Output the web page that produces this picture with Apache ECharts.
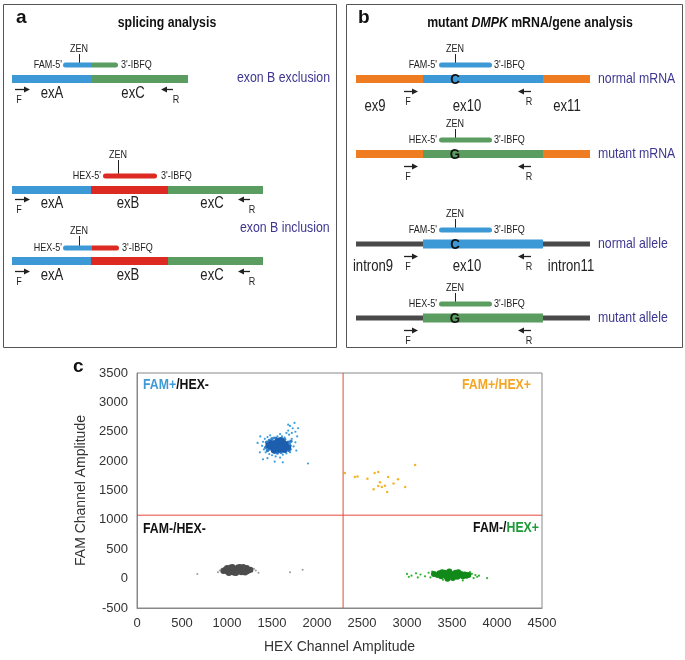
<!DOCTYPE html>
<html><head><meta charset="utf-8">
<script src="https://cdn.jsdelivr.net/npm/echarts@6/dist/echarts.min.js"></script>
<style>html,body{margin:0;padding:0;background:#fff}#c{width:685px;height:660px}</style>
</head><body><div id="c"></div>
<script>
// ---------- DATA (scatter, panel c) ----------
const xTickValues = [0,500,1000,1500,2000,2500,3000,3500,4000,4500];
const yTickValues = [-500,0,500,1000,1500,2000,2500,3000,3500];
const xAxisName = 'HEX Channel Amplitude';
const yAxisName = 'FAM Channel Amplitude';
const thresholdHEX = 2290;
const thresholdFAM = 1080;
const quadrantNames = ['FAM+/HEX-','FAM+/HEX+','FAM-/HEX-','FAM-/HEX+'];

const famPosCore = [[1480,2250],[1500,2290],[1510,2220],[1530,2310],[1540,2260],[1550,2200],[1560,2330],[1570,2280],[1580,2240],[1590,2300],[1600,2210],[1610,2270],[1620,2320],[1630,2240],[1640,2190],[1650,2290],[1660,2250],[1520,2180],[1570,2350],[1600,2360],[1490,2310],[1680,2230],[1460,2270],[1545,2240],[1585,2195],[1625,2275],[1515,2265],[1555,2300],[1605,2250],[1535,2205]];
const famPosMid = [[1430,2230],[1440,2320],[1450,2180],[1470,2350],[1500,2380],[1530,2150],[1560,2140],[1600,2150],[1650,2170],[1680,2320],[1700,2260],[1690,2180],[1640,2370],[1540,2390],[1460,2200],[1710,2340]];
const famPosSpread = [[1390,2260],[1400,2330],[1410,2200],[1420,2380],[1430,2150],[1440,2290],[1450,2410],[1370,2420],[1365,2150],[1700,2300],[1710,2200],[1720,2380],[1690,2450],[1680,2520],[1700,2600],[1730,2560],[1750,2650],[1660,2480],[1720,2480],[1760,2500],[1640,2400],[1610,2420],[1560,2420],[1520,2400],[1470,2120],[1500,2100],[1540,2080],[1590,2060],[1620,2110],[1660,2130],[1700,2150],[1740,2250],[1760,2320],[1780,2420],[1790,2560],[1680,2620],[1450,2050],[1530,1990],[1620,1980],[1900,1960],[1400,2030],[1340,2310],[1770,2180],[1480,2440],[1590,2460]];
const negCore = [[980,150],[1000,120],[1000,180],[1020,150],[1040,110],[1040,190],[1060,140],[1080,170],[1080,100],[1100,150],[1120,120],[1120,190],[1140,150],[1160,110],[1160,180],[1180,140],[1200,160],[1220,120],[1220,180],[1240,140],[1060,200],[1140,200],[960,130],[1260,150],[1100,95],[1200,105],[1020,95],[1180,200]];
const negSpread = [[920,140],[940,170],[1280,120],[1300,170],[1320,140],[670,80],[1700,110],[1840,150],[1350,100],[900,110]];
const hexPosCore = [[3340,60],[3360,90],[3380,40],[3400,70],[3420,100],[3440,30],[3460,60],[3480,90],[3500,40],[3520,70],[3540,100],[3560,30],[3580,60],[3600,80],[3620,40],[3640,70],[3660,50],[3390,110],[3450,0],[3510,10],[3570,110],[3300,80],[3680,60],[3470,120],[3530,40]];
const hexPosSpread = [[3000,80],[3050,50],[3100,90],[3150,70],[3200,40],[3240,100],[3260,20],[3280,120],[3700,40],[3720,80],[3740,10],[3760,60],[3780,30],[3800,50],[3890,10],[3620,-30],[3400,-20],[3020,30],[3120,20],[3700,110]];
const doublePos = [[2310,1800],[2420,1730],[2450,1740],[2640,1800],[2680,1815],[2790,1730],[2680,1575],[2720,1560],[2755,1580],[2780,1475],[2980,1560],[3090,1935],[2700,1640],[2560,1700],[2850,1620],[2630,1520],[2900,1690]];

// ---------- STYLE ----------
const BLUE = '#3d98d6', GREEN = '#5b9d60', RED = '#dc2a22', ORANGE = '#f07c22', GREYLINE = '#4a4a4a', PURPLE = '#3d3790';
const FF = '"Liberation Sans",Arial,sans-serif';
const SX = 0.82; // horizontal condensation of the figure's narrow font

// ---------- DIAGRAM (panels a & b) built as graphic elements ----------
const g = [];
function box(x1,y1,x2,y2){ g.push({type:'rect',silent:true,shape:{x:x1+0.5,y:y1+0.5,width:x2-x1,height:y2-y1},style:{fill:'none',stroke:'#555',lineWidth:1}}); }
function seg(x1,x2,yc,h,color){ g.push({type:'rect',silent:true,shape:{x:x1,y:yc-h/2,width:x2-x1,height:h},style:{fill:color}}); }
function probe(parts,yc){
  const h=5, r=2.5;
  parts.forEach((p,i)=>{
    let rr=[0,0,0,0];
    if(i===0){rr[0]=r;rr[3]=r;}
    if(i===parts.length-1){rr[1]=r;rr[2]=r;}
    g.push({type:'rect',silent:true,shape:{x:p[0],y:yc-h/2,width:p[1]-p[0],height:h,r:rr},style:{fill:p[2]}});
  });
}
function ln(x1,y1,x2,y2,c,w){ g.push({type:'line',silent:true,shape:{x1,y1,x2,y2},style:{stroke:c||'#222',lineWidth:w||1}}); }
function txt(t,x,y,size,align,color,weight,sx){
  g.push({type:'text',silent:true,x:x,y:y,scaleX:(sx===undefined?SX:sx),z:5,
    style:{text:t,x:0,y:0,font:(weight||'normal')+' '+size+'px '+FF,fill:color||'#222',align:align||'center',verticalAlign:'middle',textAlign:align||'center',textVerticalAlign:'middle'}});
}
function arrowR(x1,x2,y){ ln(x1,y+0.5,x2-3,y+0.5,'#222',1.3); g.push({type:'polygon',silent:true,shape:{points:[[x2,y+0.5],[x2-6,y-2.5],[x2-6,y+3.5]]},style:{fill:'#222'}}); }
function arrowL(x1,x2,y){ ln(x1+3,y+0.5,x2,y+0.5,'#222',1.3); g.push({type:'polygon',silent:true,shape:{points:[[x1,y+0.5],[x1+6,y-2.5],[x1+6,y+3.5]]},style:{fill:'#222'}}); }
function zen(x,y,yEnd){ txt('ZEN',x,y,11,'center','#222'); ln(x+0.5,y+5,x+0.5,yEnd,'#222',1); }

// Panel a
box(3,4,336,347);
txt('a',16,18,19,'left','#111','bold',1);
txt('splicing analysis',167,23,15,'center','#111','bold');
// row 1 (exon B exclusion)
zen(79,49,63);
probe([[63,92,BLUE],[92,118,GREEN]],65);
txt("FAM-5'",62,65,11,'right'); txt("3'-IBFQ",121,65,11,'left');
seg(12,92,79,8,BLUE); seg(92,188,79,8,GREEN);
arrowR(15,30,89); txt('F',19,100,11); arrowL(161,173,89); txt('R',176,100,11);
txt('exA',52,94,16); txt('exC',133,94,16);
txt('exon B exclusion',237,78,15,'left',PURPLE);
// row 2
zen(118,155,174);
probe([[103,157,RED]],176);
txt("HEX-5'",101,176,11,'right'); txt("3'-IBFQ",161,176,11,'left');
seg(12,91,190,8,BLUE); seg(91,168,190,8,RED); seg(168,263,190,8,GREEN);
arrowR(15,30,199); txt('F',19,210,11); arrowL(238,250,199); txt('R',252,210,11);
txt('exA',52,204,16); txt('exB',128,204,16); txt('exC',212,204,16);
txt('exon B inclusion',240,228,15,'left',PURPLE);
// row 3
zen(79,231,246);
probe([[63,92,BLUE],[92,119,RED]],248);
txt("HEX-5'",62,248,11,'right'); txt("3'-IBFQ",122,248,11,'left');
seg(12,91,261,8,BLUE); seg(91,168,261,8,RED); seg(168,263,261,8,GREEN);
arrowR(15,30,271); txt('F',19,282,11); arrowL(238,250,271); txt('R',252,282,11);
txt('exA',52,276,16); txt('exB',128,276,16); txt('exC',212,276,16);

// Panel b
box(346,4,682,347);
txt('b',358,18,19,'left','#111','bold',1);
g.push({type:'text',silent:true,x:530,y:23,scaleX:SX,z:5,style:{text:'{n|mutant }{i|DMPK}{n| mRNA/gene analysis}',x:0,y:0,align:'center',verticalAlign:'middle',textAlign:'center',textVerticalAlign:'middle',
  rich:{n:{font:'bold 15px '+FF,fill:'#111',color:'#111'},i:{font:'italic bold 15px '+FF,fill:'#111',color:'#111'}}}});
function rowB(y,color,letter,pl,label,allele){
  zen(455,y-30,y-16);
  probe([[439,492,color]],y-14);
  txt(pl,437,y-14,11,'right'); txt("3'-IBFQ",494,y-14,11,'left');
  if(allele){ seg(356,590,y,5,GREYLINE); seg(423,543,y,9,color); }
  else { seg(356,423,y,8,ORANGE); seg(423,543,y,8,color); seg(543,590,y,8,ORANGE); }
  txt(letter,455,y+1,14,'center','#111','bold',0.95);
  txt(label,598,y,15,'left',PURPLE);
  arrowR(404,418,y+12); txt('F',408,y+23,11); arrowL(518,531,y+12); txt('R',529,y+23,11);
}
rowB(79,BLUE,'C',"FAM-5'",'normal mRNA',false);
txt('ex9',375,107,16); txt('ex10',467,107,16); txt('ex11',567,107,16);
rowB(154,GREEN,'G',"HEX-5'",'mutant mRNA',false);
rowB(244,BLUE,'C',"FAM-5'",'normal allele',true);
txt('intron9',373,267,16); txt('ex10',467,267,16); txt('intron11',571,267,16);
rowB(318,GREEN,'G',"HEX-5'",'mutant allele',true);

// Panel c labels
txt('c',73,367,19,'left','#111','bold',1);
function rich(x,y,align,parts){
  const r={}; let s='';
  parts.forEach((p,i)=>{ r['p'+i]={font:'bold 15px '+FF,fill:p[1],color:p[1]}; s+='{p'+i+'|'+p[0]+'}'; });
  g.push({type:'text',silent:true,z:10,x:x,y:y,scaleX:SX,style:{text:s,x:0,y:0,align,verticalAlign:'middle',textAlign:align,textVerticalAlign:'middle',rich:r}});
}
rich(143,385,'left',[['FAM+','#3d9ad6'],['/HEX-','#111']]);
rich(531,385,'right',[[quadrantNames[1],'#f5a524']]);
rich(143,529,'left',[[quadrantNames[2],'#111']]);
rich(539,528,'right',[['FAM-/','#111'],['HEX+','#1f9a38']]);

// ---------- CHART ----------
const chart = echarts.init(document.getElementById('c'),null,{renderer:'canvas'});
function sc(data,color,size,z){ return {type:'scatter',data,symbol:'circle',symbolSize:size,itemStyle:{color,opacity:1},silent:true,z:z||2,animation:false}; }
const RL = '#e5483a';
const xMin = xTickValues[0], xMax = xTickValues[xTickValues.length-1];
const yMin = yTickValues[0], yMax = yTickValues[yTickValues.length-1];
function thresholdLine(pts){ return {type:'line',data:pts,symbol:'none',silent:true,z:6,animation:false,lineStyle:{color:RL,width:1,type:'solid',opacity:1},itemStyle:{color:RL}}; }
chart.setOption({
  animation:false,
  backgroundColor:'#fff',
  grid:{left:137,top:373,width:405,height:235,show:true,borderColor:'#888',borderWidth:1,backgroundColor:'transparent',containLabel:false},
  xAxis:{type:'value',min:xMin,max:xMax,interval:xTickValues[1]-xTickValues[0],
    axisLine:{show:true,onZero:false,lineStyle:{color:'#888'}},axisTick:{show:false},splitLine:{show:false},
    axisLabel:{color:'#333',fontSize:13,fontFamily:FF,margin:9,formatter:v=>String(v)},
    name:xAxisName,nameLocation:'middle',nameGap:32,nameTextStyle:{color:'#333',fontSize:14,fontFamily:FF}},
  yAxis:{type:'value',min:yMin,max:yMax,interval:yTickValues[1]-yTickValues[0],
    axisLine:{show:true,onZero:false,lineStyle:{color:'#888'}},axisTick:{show:false},splitLine:{show:false},
    axisLabel:{color:'#333',fontSize:13,fontFamily:FF,margin:9,formatter:v=>String(v)},
    name:yAxisName,nameLocation:'middle',nameGap:44,nameTextStyle:{color:'#333',fontSize:14,fontFamily:FF}},
  series:[
    thresholdLine([[thresholdHEX,yMin],[thresholdHEX,yMax]]),
    thresholdLine([[xMin,thresholdFAM],[xMax,thresholdFAM]]),
    sc(famPosSpread,'#3aa0e0',2.2,3),
    sc(famPosMid,'#2f7fcc',3.5,3),
    sc(famPosCore,'#1d5fae',6,4),
    sc(negSpread,'#9a9a9a',2,3),
    sc(negCore,'#4d4d4d',6,4),
    sc(hexPosSpread,'#2cb52c',2.2,3),
    sc(hexPosCore,'#128a1a',6,4),
    sc(doublePos,'#f5b52a',2.5,3)
  ],
  graphic:g
});
</script></body></html>
